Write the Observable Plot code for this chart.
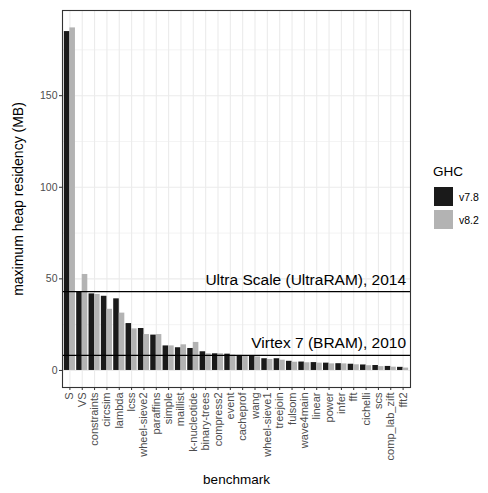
<!DOCTYPE html>
<html>
<head>
<meta charset="utf-8">
<script src="https://cdn.jsdelivr.net/npm/d3@7"></script>
<script src="https://cdn.jsdelivr.net/npm/@observablehq/plot@0.6"></script>
<style>
  html, body { margin: 0; padding: 0; background: #ffffff; }
  #wrap { position: relative; width: 488px; height: 493px; font-family: "Liberation Sans", Arial, sans-serif; }
  #legend { position: absolute; left: 433px; top: 164px; color: #000; }
  #legend .title { font-size: 13.5px; margin-bottom: 6px; }
  #legend .row { display: flex; align-items: center; height: 23px; font-size: 10.5px; }
  #legend .key { width: 21px; height: 21px; margin-right: 5px; box-sizing: border-box; border: 1px solid #fff; }
</style>
</head>
<body>
<div id="wrap"></div>
<script>
const benchmarks = ["S","VS","constraints","circsim","lambda","lcss","wheel-sieve2","paraffins","simple","maillist","k-nucleotide","binary-trees","compress2","event","cacheprof","wang","wheel-sieve1","treejoin","fulsom","wave4main","linear","power","infer","fft","cichelli","scs","comp_lab_zift","fft2"];
const v78 = [185, 43, 41.8, 40.5, 39.1, 25.6, 22.9, 19.3, 13.4, 12.4, 12.0, 10.2, 9.1, 8.9, 8.2, 7.8, 6.4, 6.4, 5.0, 4.6, 4.3, 4.0, 3.7, 3.4, 3.0, 2.7, 2.2, 1.7];
const v82 = [187, 52.4, 41.5, 33.4, 31.3, 22.7, 19.6, 19.6, 13.4, 14.0, 15.3, 9.1, 9.1, 8.4, 8.1, 7.4, 6.0, 5.6, 4.5, 4.2, 4.0, 3.6, 3.6, 3.1, 2.6, 2.1, 1.8, 1.3];
const versions = ["v7.8", "v8.2"];
const versionColors = ["#1a1a1a", "#b3b3b3"];
const refLines = [43, 8.25];
const refLabels = ["Ultra Scale (UltraRAM), 2014", "Virtex 7 (BRAM), 2010"];
const yMajor = [0, 50, 100, 150];
const yMinor = [25, 75, 125, 175];

const rows = benchmarks.flatMap((b, i) => [
  {benchmark: b, version: versions[0], mb: v78[i]},
  {benchmark: b, version: versions[1], mb: v82[i]}
]);
const refs = refLines.map((v, i) => ({y: v, label: refLabels[i], x: benchmarks[benchmarks.length - 1]}));

const W = 488, H = 493, mL = 62, mR = 78, mT = 10, mB = 106;
const panelW = W - mL - mR;
const step = panelW / (benchmarks.length + 0.2);
const half = step * 0.45;

const chart = Plot.plot({
  width: W, height: H,
  marginLeft: mL, marginRight: mR, marginTop: mT, marginBottom: mB,
  style: {fontFamily: "Liberation Sans, Arial, sans-serif", background: "#ffffff"},
  x: {type: "band", domain: benchmarks, paddingInner: 0.1, paddingOuter: 0.15, round: false, align: 0.5},
  y: {domain: [-9.3, 196.5], round: false},
  color: {domain: versions, range: versionColors},
  marks: [
    Plot.gridY({ticks: yMinor, stroke: "#ebebeb", strokeOpacity: 1, strokeWidth: 0.6}),
    Plot.gridY({ticks: yMajor, stroke: "#ebebeb", strokeOpacity: 1, strokeWidth: 1.1}),
    Plot.gridX({stroke: "#ebebeb", strokeOpacity: 1, strokeWidth: 1.1}),
    Plot.barY(rows.filter(d => d.version === versions[0]), {x: "benchmark", y1: 0, y2: "mb", fill: "version", insetLeft: 0, insetRight: half}),
    Plot.barY(rows.filter(d => d.version === versions[1]), {x: "benchmark", y1: 0, y2: "mb", fill: "version", insetLeft: half, insetRight: 0}),
    Plot.ruleY(refs, {y: "y", stroke: "#000", strokeWidth: 1.3}),
    Plot.text(refs, {x: "x", y: "y", text: "label", textAnchor: "end", dy: -12, dx: 3, fontSize: 15.5, fill: "#000"}),
    Plot.frame({stroke: "#333333", strokeWidth: 1.1}),
    Plot.axisY({ticks: yMajor, tickSize: 3, tickPadding: 2, fontSize: 10.5, fill: "#4d4d4d", stroke: "#333", label: null}),
    Plot.axisX({tickRotate: -90, tickSize: 3, tickPadding: 2, fontSize: 11, fill: "#4d4d4d", stroke: "#333", label: null}),
    Plot.text(["maximum heap residency (MB)"], {frameAnchor: "left", textAnchor: "middle", rotate: -90, dx: -44, fontSize: 14, fill: "#000"}),
    Plot.text(["benchmark"], {frameAnchor: "bottom", dy: 96, fontSize: 13.5, fill: "#000"})
  ]
});

const wrap = document.getElementById("wrap");
wrap.appendChild(chart);
const legend = document.createElement("div");
legend.id = "legend";
legend.innerHTML = `<div class="title">GHC</div>` + versions.map((v, i) =>
  `<div class="row"><div class="key" style="background:${versionColors[i]}"></div><span>${v}</span></div>`).join("");
wrap.appendChild(legend);
</script>
</body>
</html>
